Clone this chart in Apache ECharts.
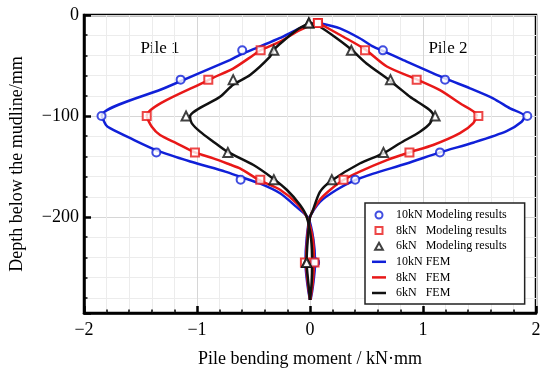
<!DOCTYPE html>
<html>
<head>
<meta charset="utf-8">
<script src="https://cdn.jsdelivr.net/npm/echarts@6/dist/echarts.min.js"></script>
<style>
html,body{margin:0;padding:0;background:#fff;}
#chart{width:550px;height:380px;}
</style>
</head>
<body>
<div id="chart"></div>
<script>
// ---- Data (bending moment kN·mm vs depth mm) ----
const markerDepths = [-8, -35, -64, -100, -136, -163, -245];
const mod10_pile1 = [0.07, -0.60, -1.145, -1.845, -1.36, -0.614, 0.045];
const mod10_pile2 = [0.07, 0.645, 1.195, 1.923, 1.15, 0.40, 0.045];
const mod8_pile1  = [0.07, -0.437, -0.90, -1.445, -1.018, -0.44, 0.04];
const mod8_pile2  = [0.07, 0.487, 0.944, 1.49, 0.88, 0.297, -0.045];
const mod6_pile1  = [-0.01, -0.32, -0.68, -1.097, -0.727, -0.32, -0.03];
const mod6_pile2  = [-0.01, 0.366, 0.712, 1.107, 0.65, 0.193, -0.03];

// FEM curves: [moment, depth]
const fem10_pile1 = [[0.07,-7.6],[-0.06,-11.6],[-0.27,-23],[-0.45,-31.5],[-0.62,-39.5],[-0.71,-44.6],[-1.28,-72],[-1.843,-99.5],[-1.805,-109],[-1.77,-112],[-1.59,-122],[-1.357,-134],[-1.06,-145],[-0.75,-155],[-0.62,-160],[-0.44,-167],[-0.265,-176.5],[-0.12,-190],[-0.015,-201],[0.03,-222],[0.045,-245],[0.03,-265],[0.005,-282]];
const fem10_pile2 = [[0.07,-7.6],[0.265,-13.2],[0.44,-23],[0.56,-31.4],[0.643,-35.5],[0.826,-44.6],[1.195,-62.7],[1.416,-72.6],[1.62,-82.5],[1.77,-92.4],[1.90,-100],[1.873,-105.6],[1.74,-115],[1.45,-126.2],[1.15,-136],[0.856,-147],[0.56,-157],[0.40,-163.4],[0.236,-173],[0.088,-185],[0.0,-200],[-0.03,-222],[-0.04,-245],[-0.025,-265],[0.0,-282]];
const fem8_pile1  = [[0.07,-7.6],[-0.09,-15],[-0.265,-26.4],[-0.44,-35],[-0.50,-39.6],[-0.68,-53],[-0.90,-64.4],[-1.445,-100],[-1.40,-110.6],[-1.327,-118.8],[-1.18,-127],[-1.018,-136],[-0.856,-142],[-0.71,-148],[-0.62,-151.8],[-0.44,-164],[-0.265,-173],[-0.118,-186.5],[-0.024,-201],[0.025,-222],[0.035,-245],[0.025,-265],[0.003,-282]];
const fem8_pile2  = [[0.07,-7.6],[0.295,-21.5],[0.487,-34],[0.68,-51],[0.944,-63.7],[1.15,-74.3],[1.327,-87.4],[1.475,-99],[1.445,-107],[1.327,-117],[1.09,-128.7],[0.88,-136],[0.68,-143.6],[0.44,-155],[0.295,-163.4],[0.177,-173.3],[0.088,-183],[0.0,-200],[-0.025,-222],[-0.035,-245],[-0.02,-265],[0.0,-282]];
const fem6_pile1  = [[0.0,-7.6],[-0.12,-15],[-0.25,-27],[-0.325,-35],[-0.354,-41.3],[-0.53,-59.4],[-0.68,-69],[-0.796,-81],[-1.062,-100.6],[-1.047,-107],[-0.973,-115.5],[-0.856,-125.4],[-0.737,-135],[-0.5,-148.5],[-0.325,-162],[-0.206,-173],[-0.088,-188],[-0.03,-199.7],[0.01,-222],[0.02,-245],[0.015,-265],[0.0,-282]];
const fem6_pile2  = [[0.0,-7.6],[0.088,-11.6],[0.236,-23],[0.37,-34.6],[0.50,-48],[0.708,-65],[0.885,-81],[1.09,-99],[1.062,-107.3],[0.973,-115.5],[0.796,-127],[0.65,-137],[0.44,-147],[0.19,-164],[0.088,-175],[0.02,-195],[0.0,-200],[-0.02,-222],[-0.03,-245],[-0.015,-265],[0.0,-282]];

const xTicks = [-2, -1, 0, 1, 2];
const yTickLabels = [0, -100, -200];

const names = {
  m10: '10kN Modeling results',
  m8:  '8kN   Modeling results',
  m6:  '6kN   Modeling results',
  f10: '10kN FEM',
  f8:  '8kN   FEM',
  f6:  '6kN   FEM'
};
const BLUE = '#1020d8', RED = '#e81818', BLACK = '#111111';
const FONT = 'Liberation Serif';
const DASH = 'path://M0,0H28V5H0Z';
const SQUARE = 'path://M0,0H10V10H0Z';
const TRI = 'path://M5,0L10,9H0Z';

function pts(xs1, xs2) {
  const out = [];
  markerDepths.forEach((d, i) => out.push([xs1[i], d]));
  markerDepths.forEach((d, i) => out.push([xs2[i], d]));
  return out;
}
const minus = s => String(s).replace('-', '\u2212');

function femSeries(name, data, color) {
  return {
    type: 'line', name: name, data: data, symbol: 'none', z: 2,
    lineStyle: { color: color, width: 2.5 }, itemStyle: { color: color },
    smooth: 0.25, animation: false
  };
}
function modSeries(name, data, color, symbol, size) {
  return {
    type: 'scatter', name: name, data: data, symbol: symbol, symbolSize: size, z: 5,
    itemStyle: { color: color, borderColor: color, borderWidth: 1.6 }, animation: false
  };
}
function legendItem(name, icon, color, filled) {
  return {
    name: name, icon: icon,
    itemStyle: filled ? { color: color, borderWidth: 0 } : { color: '#fff', borderColor: color, borderWidth: 2 }
  };
}

const chart = echarts.init(document.getElementById('chart'), null, { renderer: 'canvas' });
chart.setOption({
  backgroundColor: '#fff',
  animation: false,
  grid: { left: 84, right: 14, top: 15, bottom: 67, show: true, borderColor: '#000', borderWidth: 2.5 },
  xAxis: {
    type: 'value', min: xTicks[0], max: xTicks[xTicks.length - 1], interval: 1,
    axisLine: { show: true, onZero: false, lineStyle: { color: '#000', width: 2.5 } },
    axisTick: { show: true, inside: true, length: 7, lineStyle: { color: '#000', width: 2.5 } },
    minorTick: { show: true, splitNumber: 5, length: 3.5, lineStyle: { color: '#000', width: 1.5 } },
    splitLine: { show: true, lineStyle: { color: '#d6d6d6', width: 1 } },
    minorSplitLine: { show: true, lineStyle: { color: '#ececec', width: 1 } },
    axisLabel: { color: '#000', fontFamily: FONT, fontSize: 18, margin: 8, formatter: v => minus(v) },
    name: 'Pile bending moment / kN\u00b7mm', nameLocation: 'middle', nameGap: 37,
    nameTextStyle: { color: '#000', fontFamily: FONT, fontSize: 18 }
  },
  yAxis: {
    type: 'value', min: -295, max: 0, splitNumber: 3,
    axisLine: { show: true, onZero: false, lineStyle: { color: '#000', width: 2.5 } },
    axisTick: { show: true, inside: true, length: 7, lineStyle: { color: '#000', width: 2.5 } },
    minorTick: { show: true, splitNumber: 5, length: 3.5, lineStyle: { color: '#000', width: 1.5 } },
    splitLine: { show: true, lineStyle: { color: '#d6d6d6', width: 1 } },
    minorSplitLine: { show: true, lineStyle: { color: '#ececec', width: 1 } },
    axisLabel: { color: '#000', fontFamily: FONT, fontSize: 18, margin: 5,
      formatter: v => (yTickLabels.indexOf(v) >= 0 ? minus(v) : '') },
    name: 'Depth below the mudline/mm', nameLocation: 'middle', nameGap: 58, nameRotate: 90,
    nameTextStyle: { color: '#000', fontFamily: FONT, fontSize: 18 }
  },
  legend: {
    orient: 'vertical', left: 365, top: 203,
    backgroundColor: '#fff', borderColor: '#222', borderWidth: 1.5,
    padding: [5, 18, 4, 7], itemGap: 1.6, itemWidth: 14, itemHeight: 7,
    symbolKeepAspect: true,
    textStyle: { color: '#000', fontFamily: FONT, fontSize: 12, lineHeight: 14, padding: [0, 0, 0, 5] },
    data: [
      legendItem(names.m10, 'circle', BLUE, false),
      legendItem(names.m8, SQUARE, RED, false),
      legendItem(names.m6, TRI, BLACK, false),
      legendItem(names.f10, DASH, BLUE, true),
      legendItem(names.f8, DASH, RED, true),
      legendItem(names.f6, DASH, BLACK, true)
    ]
  },
  graphic: [
    { type: 'text', x: 160, y: 49, style: { text: 'Pile 1', font: '17px "Liberation Serif"', fill: '#000', textAlign: 'center', textVerticalAlign: 'middle' } },
    { type: 'text', x: 448, y: 49, style: { text: 'Pile 2', font: '17px "Liberation Serif"', fill: '#000', textAlign: 'center', textVerticalAlign: 'middle' } }
  ],
  series: [
    femSeries(names.f10, fem10_pile1, BLUE),
    femSeries(names.f10, fem10_pile2, BLUE),
    femSeries(names.f8, fem8_pile1, RED),
    femSeries(names.f8, fem8_pile2, RED),
    femSeries(names.f6, fem6_pile1, BLACK),
    femSeries(names.f6, fem6_pile2, BLACK),
    modSeries(names.m10, pts(mod10_pile1, mod10_pile2), BLUE, 'emptyCircle', 8),
    modSeries(names.m8, pts(mod8_pile1, mod8_pile2), RED, 'emptyRect', 8),
    modSeries(names.m6, pts(mod6_pile1, mod6_pile2), BLACK, 'emptyTriangle', 9)
  ]
});
</script>
</body>
</html>
